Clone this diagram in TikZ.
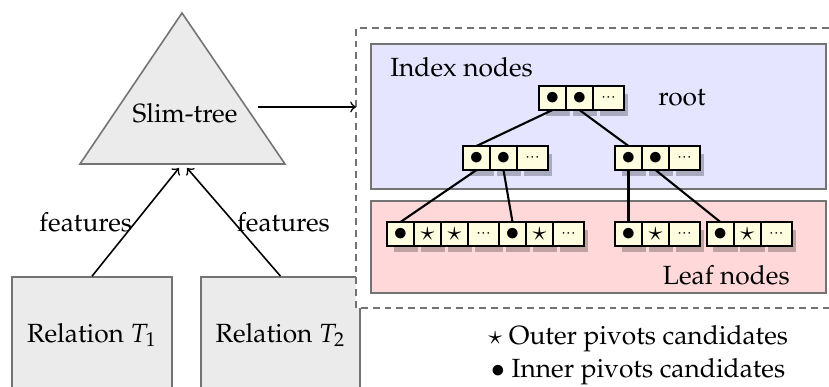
\documentclass[tikz,border=0pt]{standalone}
\usepackage[T1]{fontenc}
\usepackage{mathpazo}
\usetikzlibrary{positioning,shadows}

\tikzset{
  graybox/.style={draw=black!55, semithick, fill=black!8},
  levelbox/.style={draw=black!55, line width=0.8pt, inner sep=0pt, anchor=north west},
  zoomframe/.style={draw=black!55, semithick, dash pattern=on 2.6pt off 1.9pt},
  cell/.style={draw, semithick, fill=yellow!12, inner sep=0pt, outer sep=0pt,
    minimum width=10.26pt, minimum height=9.12pt,
    drop shadow={shadow xshift=2.3pt, shadow yshift=-2.9pt, shadow scale=0.92,
      fill=black, opacity=0.25}},
  dotcell/.style={cell, minimum width=11.78pt},
  edge/.style={thick},
}
\newcommand{\celldots}{$\scriptscriptstyle\cdots$}

\begin{document}
\begin{tikzpicture}[x=0.38pt,y=-0.38pt]
 \useasboundingbox (0,0) rectangle (829,387);
 \clip (0,0) rectangle (829,387);

 \node[graybox, minimum width=60.8pt, minimum height=44.1pt] (rel1) at (92,335) {Relation $T_1$};
 \node[graybox, minimum width=60.4pt, minimum height=44.1pt] (rel2) at (280.5,335) {Relation $T_2$};

 \filldraw[graybox] (182,13) -- (285,164) -- (80,164) -- cycle;
 \node (slim) at (185,113) {Slim-tree};
 \coordinate (in1) at (179,168);
 \coordinate (in2) at (187,168);
 \draw[->, semithick] (rel1.north) -- node[midway, left, inner sep=1pt] {features} (in1);
 \draw[->, semithick] (rel2.north) -- node[midway, right, inner sep=1pt] {features} (in2);

 \fill[white] (356,28) rectangle (900,308);
 \draw[zoomframe] (900,28) -| (356,308) -- (900,308);
 \coordinate (zoomwest) at (356,107);
 \coordinate (treeout) at (258,107);
 \draw[->, semithick] (treeout) -- (zoomwest);

 \node[levelbox, fill=blue!10, minimum width=172.9pt, minimum height=55.1pt] (indexbox) at (370,43) {};
 \node[levelbox, fill=red!15, minimum width=172.9pt, minimum height=35pt] (leafbox) at (370,200) {};
 \node[anchor=west] (indexlabel) at (381,67) {Index nodes};
 \node[anchor=east] (leaflabel) at (799,275) {Leaf nodes};
 \node (rootlabel) at (682,98) {root};

 \node[cell] (r1) at (552.5,98) {$\bullet$};
 \node[cell, right=0pt of r1] (r2) {$\bullet$};
 \node[dotcell, right=0pt of r2] (r3) {\celldots};

 \node[cell] (a1) at (476.5,158) {$\bullet$};
 \node[cell, right=0pt of a1] (a2) {$\bullet$};
 \node[dotcell, right=0pt of a2] (a3) {\celldots};

 \node[cell] (b1) at (628.5,158) {$\bullet$};
 \node[cell, right=0pt of b1] (b2) {$\bullet$};
 \node[dotcell, right=0pt of b2] (b3) {\celldots};

 \node[cell] (c1) at (400.5,234) {$\bullet$};
 \node[cell, right=0pt of c1] (c2) {$\star$};
 \node[cell, right=0pt of c2] (c3) {$\star$};
 \node[dotcell, right=0pt of c3] (c4) {\celldots};
 \node[cell, right=0pt of c4] (d1) {$\bullet$};
 \node[cell, right=0pt of d1] (d2) {$\star$};
 \node[dotcell, right=0pt of d2] (d3) {\celldots};

 \node[cell] (e1) at (628.5,234) {$\bullet$};
 \node[cell, right=0pt of e1] (e2) {$\star$};
 \node[dotcell, right=0pt of e2] (e3) {\celldots};
 \node[cell, right=2.6pt of e3] (f1) {$\bullet$};
 \node[cell, right=0pt of f1] (f2) {$\star$};
 \node[dotcell, right=0pt of f2] (f3) {\celldots};

 \draw[edge] (r1.south) -- (a1.north);
 \draw[edge] (r2.south) -- (b1.north);
 \draw[edge] (a1.south) -- (c1.north);
 \draw[edge] (a2.south) -- (d1.north);
 \draw[edge] (b1.south) -- (e1.north);
 \draw[edge] (b2.south) -- (f1.north);

 \node[inner sep=1pt] (outerkey) at (638,339) {$\star$ Outer pivots candidates};
 \node[inner sep=1pt, below=0pt of outerkey] (innerkey) {$\bullet$ Inner pivots candidates};
\end{tikzpicture}
\end{document}
